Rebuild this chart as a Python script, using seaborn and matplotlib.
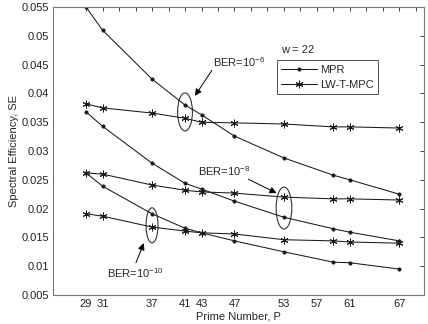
import numpy as np
import pandas as pd
import seaborn as sns
import matplotlib.pyplot as plt
from matplotlib.patches import Ellipse

# valores
primos = [29, 31, 37, 41, 43, 47, 53, 59, 61, 67]
mpr_6 = [0.0550, 0.0510, 0.0425, 0.0380, 0.0363, 0.0326, 0.0288, 0.0258, 0.0250, 0.0225]
lw_6 = [0.0382, 0.0375, 0.0366, 0.0357, 0.0350, 0.0349, 0.0347, 0.0342, 0.0342, 0.0340]
mpr_8 = [0.0368, 0.0343, 0.0279, 0.0244, 0.0234, 0.0213, 0.0185, 0.0165, 0.0159, 0.0144]
lw_8 = [0.0262, 0.0260, 0.0241, 0.0232, 0.0229, 0.0227, 0.0220, 0.0217, 0.0217, 0.0215]
mpr_10 = [0.0262, 0.0239, 0.0191, 0.0166, 0.0158, 0.0144, 0.0125, 0.0107, 0.0106, 0.0095]
lw_10 = [0.0191, 0.0187, 0.0168, 0.0161, 0.0158, 0.0156, 0.0146, 0.0144, 0.0142, 0.0140]
etiquetas_x = [29, 31, 37, 41, 43, 47, 53, 57, 61, 67]

sns.set_style("white")
plt.rcParams['font.family'] = ['Liberation Sans', 'DejaVu Sans']
plt.rcParams['mathtext.fontset'] = 'custom'
plt.rcParams['mathtext.rm'] = 'Liberation Sans'
plt.rcParams['mathtext.it'] = 'Liberation Sans'

fig = plt.figure(figsize=(4.28, 3.24), dpi=100)
ax = fig.add_axes([0.124, 0.0895, 0.867, 0.8885])

asterisco = (6, 2, 0)
series = [
    (mpr_6, "MPR", "."), (lw_6, "LW-T-MPC", asterisco),
    (mpr_8, None, "."), (lw_8, None, asterisco),
    (mpr_10, None, "."), (lw_10, None, asterisco),
]
for vals, lab, mk in series:
    df = pd.DataFrame({"P": primos, "SE": vals})
    ms = 4.5 if mk == "." else 5.5
    sns.lineplot(data=df, x="P", y="SE", ax=ax, color="#1a1a1a", linewidth=0.75,
                 marker=mk, markersize=ms, markeredgewidth=0.7,
                 markeredgecolor="#1a1a1a", label=lab)

ax.set_xlim(25, 70)
ax.set_ylim(0.005, 0.055)
ax.set_xticks(np.arange(29, 70, 2))
ax.set_xticklabels([str(t) if t in etiquetas_x else "" for t in np.arange(29, 70, 2)])
ax.set_yticks(np.arange(0.005, 0.0551, 0.005))
ax.set_yticklabels([f"{v:g}" for v in np.arange(0.005, 0.0551, 0.005)])
ax.tick_params(direction="in", length=3, width=0.6, top=True, right=True,
               labelsize=8, colors="#222", pad=3)
for s in ax.spines.values():
    s.set_color("#777")
    s.set_linewidth(0.8)

ax.set_xlabel("Prime Number, P", fontsize=8, labelpad=2)
ax.set_ylabel("Spectral Efficiency, SE", fontsize=8, labelpad=2)

leg = ax.legend(loc="upper left", bbox_to_anchor=(0.603, 0.816), fontsize=8,
                frameon=True, fancybox=False, edgecolor="#222", borderpad=0.4,
                handlelength=3.2, handletextpad=0.3, labelspacing=0.45, borderaxespad=0)
leg.get_frame().set_linewidth(0.7)

ax.text(52.6, 0.0475, "w = 22", fontsize=8, ha="left", va="center")

# elipses y flechas de BER
for cx, cy, w, h in [(41, 0.0368, 1.8, 0.0066), (53, 0.0201, 1.9, 0.0073), (37, 0.0171, 1.45, 0.0061)]:
    ax.add_patch(Ellipse((cx, cy), w, h, fill=False, edgecolor="#333", linewidth=0.8))

flechas = [
    ("BER=10$^{-6}$", (44.4, 0.0455), (44.25, 0.0440), (42.2, 0.0396)),
    ("BER=10$^{-8}$", (42.6, 0.0265), (48.7, 0.0251), (52.1, 0.0227)),
    ("BER=10$^{-10}$", (31.5, 0.0088), (35.05, 0.0106), (36.0, 0.0140)),
]
for txt, pos, ini, fin in flechas:
    ax.text(pos[0], pos[1], txt, fontsize=8, ha="left", va="center")
    ax.annotate("", xy=fin, xytext=ini,
                arrowprops=dict(arrowstyle="-|>", color="black", lw=0.7,
                                mutation_scale=10, shrinkA=0, shrinkB=0))

fig.savefig("out.png", dpi=100)
